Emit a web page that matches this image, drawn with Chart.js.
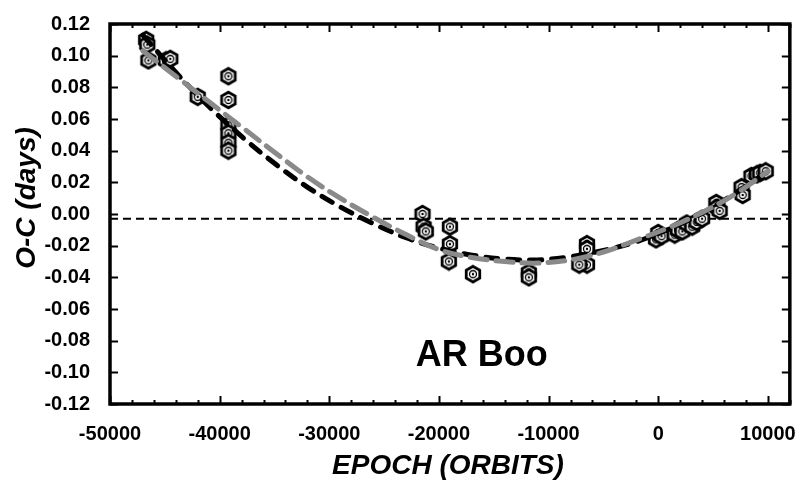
<!DOCTYPE html>
<html>
<head>
<meta charset="utf-8">
<script src="https://cdn.jsdelivr.net/npm/chart.js@4"></script>
<style>
  html, body { margin: 0; padding: 0; background: #fff; }
  canvas { display: block; }
</style>
</head>
<body>
<canvas id="oc" width="806" height="484"></canvas>
<script>
// ── Data ───────────────────────────────────────────────
const obsEpoch = [
  -46700, -46600, -46500, -44900, -44500, -42000,
  -39200, -39200, -39200, -39200, -39200, -39200,
  -21500, -21400, -21200, -19000, -19000, -19100, -16900,
  -11800, -11800, -6500, -6500, -6500, -7200,
  -200, 0, 300, 1500, 1800, 2200, 2600, 3100, 3500, 4000,
  5300, 5400, 5600, 7600, 7700, 8500, 9000, 9300, 9800
];
const obsOC = [
  0.110, 0.107, 0.097, 0.097, 0.098, 0.074,
  0.087, 0.072, 0.056, 0.051, 0.045, 0.040,
  0.000, -0.008, -0.011, -0.008, -0.019, -0.030, -0.038,
  -0.037, -0.040, -0.019, -0.022, -0.032, -0.032,
  -0.016, -0.012, -0.014, -0.013, -0.010, -0.011, -0.006, -0.008, -0.005, -0.003,
  0.007, 0.004, 0.002, 0.017, 0.012, 0.024, 0.025, 0.026, 0.027
];

const fitEpoch = [
  -47000, -44000, -41000, -38000, -35000, -32000, -29000, -26000, -23000, -20000,
  -17000, -14000, -11000, -8000, -5000, -2000, 1000, 4000, 7000, 10000
];
const fitBlack = [
  0.113, 0.0895, 0.068, 0.049, 0.032, 0.017, 0.0045, -0.006, -0.015, -0.0215,
  -0.026, -0.0285, -0.029, -0.027, -0.023, -0.0175, -0.0095, 0.0005, 0.013, 0.027
];
const fitGray = [
  0.103, 0.087, 0.071, 0.055, 0.039, 0.0235, 0.010, -0.002, -0.013, -0.0225,
  -0.0275, -0.030, -0.031, -0.029, -0.024, -0.0165, -0.0085, 0.001, 0.0125, 0.027
];

const refEpoch = [-50000, 12000];
const refOC = [-0.003, -0.003];

const xTicks = [-50000, -40000, -30000, -20000, -10000, 0, 10000];
const yTicks = [-0.12, -0.10, -0.08, -0.06, -0.04, -0.02, 0, 0.02, 0.04, 0.06, 0.08, 0.10, 0.12];

const starName = 'AR Boo';
const starPos = { x: -16100, y: -0.090 };

// ── Helpers ────────────────────────────────────────────
const pts = (xs, ys) => xs.map((x, i) => ({ x, y: ys[i] }));
const FONT = '"Liberation Sans", Arial, Helvetica, sans-serif';

// hexagon marker with ring + dot
function hexMarker() {
  const c = document.createElement('canvas');
  c.width = c.height = 20;
  const g = c.getContext('2d');
  const cx = 10, cy = 10, r = 7.8;
  g.beginPath();
  for (let k = 0; k < 6; k++) {
    const a = (-90 + k * 60) * Math.PI / 180;
    const px = cx + r * Math.cos(a), py = cy + r * Math.sin(a);
    k ? g.lineTo(px, py) : g.moveTo(px, py);
  }
  g.closePath();
  g.fillStyle = '#fff';
  g.fill();
  g.lineWidth = 2.8;
  g.strokeStyle = '#000';
  g.stroke();
  g.beginPath();
  g.arc(cx, cy, 3.5, 0, Math.PI * 2);
  g.lineWidth = 1.3;
  g.stroke();
  g.beginPath();
  g.arc(cx, cy, 1.2, 0, Math.PI * 2);
  g.fillStyle = '#000';
  g.fill();
  return c;
}

// ── Frame, inward ticks, titles ────────────────────────
const framePlugin = {
  id: 'frame',
  afterDatasetsDraw(chart) {
    const { ctx, chartArea: a, scales: { x, y } } = chart;
    ctx.save();
    ctx.strokeStyle = '#000';
    ctx.lineWidth = 2;
    ctx.beginPath();
    for (let v = -50000; v <= 12000; v += 2000) {
      const px = Math.round(x.getPixelForValue(v)) + 0.5;
      const len = v % 10000 === 0 ? 8 : 4;
      ctx.moveTo(px, a.bottom); ctx.lineTo(px, a.bottom - len);
      ctx.moveTo(px, a.top); ctx.lineTo(px, a.top + len);
    }
    yTicks.forEach(v => {
      const py = Math.round(y.getPixelForValue(v)) + 0.5;
      ctx.moveTo(a.left, py); ctx.lineTo(a.left + 8, py);
      ctx.moveTo(a.right, py); ctx.lineTo(a.right - 8, py);
    });
    ctx.stroke();

    ctx.lineWidth = 3.5;
    ctx.strokeRect(a.left, a.top, a.right - a.left, a.bottom - a.top);

    // star name
    ctx.fillStyle = '#000';
    ctx.font = `bold 36px ${FONT}`;
    ctx.textAlign = 'center';
    ctx.textBaseline = 'middle';
    ctx.fillText(starName, x.getPixelForValue(starPos.x), y.getPixelForValue(starPos.y));

    // axis titles
    ctx.font = `italic bold 28px ${FONT}`;
    ctx.fillText('EPOCH (ORBITS)', (a.left + a.right) / 2 - 2, 466);
    ctx.translate(27, 198);
    ctx.rotate(-Math.PI / 2);
    ctx.fillText('O-C (days)', 0, 0);
    ctx.restore();
  }
};

// ── Chart ──────────────────────────────────────────────
new Chart(document.getElementById('oc'), {
  type: 'scatter',
  data: {
    datasets: [
      {
        label: 'zero',
        data: pts(refEpoch, refOC),
        showLine: true,
        borderColor: '#000',
        borderWidth: 2.2,
        borderDash: [8, 5],
        pointRadius: 0,
        order: 4
      },
      {
        label: 'O-C',
        data: pts(obsEpoch, obsOC),
        pointStyle: hexMarker(),
        pointRadius: 8,
        order: 3
      },
      {
        label: 'fit 1',
        data: pts(fitEpoch, fitBlack),
        showLine: true,
        borderColor: '#000',
        borderWidth: 5,
        borderDash: [12, 10],
        borderCapStyle: 'round',
        tension: 0.35,
        pointRadius: 0,
        order: 2
      },
      {
        label: 'fit 2',
        data: pts(fitEpoch, fitGray),
        showLine: true,
        borderColor: '#8a8a8a',
        borderWidth: 5,
        borderDash: [17, 9],
        borderCapStyle: 'round',
        tension: 0.35,
        pointRadius: 0,
        order: 1
      }
    ]
  },
  options: {
    responsive: false,
    animation: false,
    layout: { padding: { left: 0, right: 9, top: 16, bottom: 0 } },
    plugins: { legend: { display: false }, tooltip: { enabled: false } },
    scales: {
      x: {
        type: 'linear',
        min: -50000,
        max: 12000,
        grid: { display: false },
        border: { display: false },
        afterBuildTicks: s => { s.ticks = xTicks.map(value => ({ value })); },
        afterFit: s => { s.height = 80; },
        ticks: {
          padding: 10,
          color: '#000',
          maxRotation: 0,
          autoSkip: false,
          font: { family: FONT, size: 20, weight: 'bold' },
          callback: v => String(v)
        }
      },
      y: {
        type: 'linear',
        min: -0.12,
        max: 0.12,
        grid: { display: false },
        border: { display: false },
        afterBuildTicks: s => { s.ticks = yTicks.map(value => ({ value })); },
        afterFit: s => { s.width = 110; },
        ticks: {
          padding: 12,
          color: '#000',
          autoSkip: false,
          font: { family: FONT, size: 20, weight: 'bold' },
          callback: v => (Math.abs(v) < 1e-9 ? 0 : v).toFixed(2)
        }
      }
    }
  },
  plugins: [framePlugin]
});
</script>
</body>
</html>
